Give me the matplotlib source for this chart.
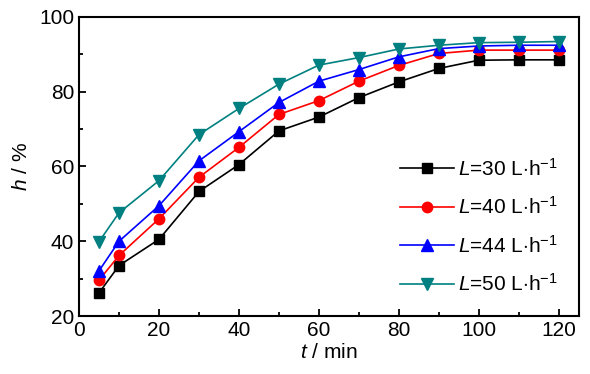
import matplotlib
matplotlib.use("Agg")
import matplotlib.pyplot as plt
from matplotlib.ticker import MultipleLocator

plt.rcParams["font.family"] = "Liberation Sans"
plt.rcParams["mathtext.fontset"] = "custom"
plt.rcParams["mathtext.rm"] = "Liberation Sans"
plt.rcParams["mathtext.it"] = "Liberation Sans:italic"

# tempo (min)
t = [5, 10, 20, 30, 40, 50, 60, 70, 80, 90, 100, 110, 120]

# h (%) para cada vazão L
h30 = [26.2, 33.5, 40.5, 53.3, 60.5, 69.5, 73.2, 78.4, 82.6, 86.2, 88.4, 88.5, 88.5]
h40 = [29.6, 36.2, 46.0, 57.1, 65.1, 73.9, 77.6, 82.8, 87.0, 90.2, 91.1, 91.1, 91.1]
h44 = [32.1, 40.0, 49.5, 61.5, 69.3, 77.1, 82.8, 85.9, 89.3, 91.5, 92.2, 92.4, 92.4]
h50 = [39.9, 47.6, 56.2, 68.5, 75.5, 82.0, 87.1, 89.1, 91.4, 92.4, 93.1, 93.2, 93.4]

labels = [r"$L$=30 L$\cdot$h$^{-1}$", r"$L$=40 L$\cdot$h$^{-1}$",
          r"$L$=44 L$\cdot$h$^{-1}$", r"$L$=50 L$\cdot$h$^{-1}$"]

fig = plt.figure(figsize=(5.9, 3.74), dpi=100)
ax = fig.add_axes([0.134, 0.155, 0.847, 0.80])

ax.plot(t, h30, color="black", marker="s", ms=7, lw=1.2, label=labels[0])
ax.plot(t, h40, color="red", marker="o", ms=7.5, lw=1.2, label=labels[1])
ax.plot(t, h44, color="blue", marker="^", ms=8, lw=1.2, label=labels[2])
ax.plot(t, h50, color="#008080", marker="v", ms=8, lw=1.2, label=labels[3])

ax.set_xlim(0, 125)
ax.set_ylim(20, 100)
ax.xaxis.set_major_locator(MultipleLocator(20))
ax.xaxis.set_minor_locator(MultipleLocator(10))
ax.yaxis.set_major_locator(MultipleLocator(20))
ax.yaxis.set_minor_locator(MultipleLocator(10))
ax.tick_params(which="both", direction="in", labelsize=15, width=1.3)
ax.tick_params(which="major", length=5)
ax.tick_params(which="minor", length=3)
for s in ax.spines.values():
    s.set_linewidth(1.5)

ax.set_xlabel(r"$t$ / min", fontsize=15, labelpad=2)
ax.set_ylabel(r"$h$ / %", fontsize=15, labelpad=6)

ax.legend(loc="lower right", frameon=False, fontsize=15, handlelength=2.6,
          labelspacing=0.8, handletextpad=0.2, borderaxespad=0.6)

fig.savefig("out.png", dpi=100)
